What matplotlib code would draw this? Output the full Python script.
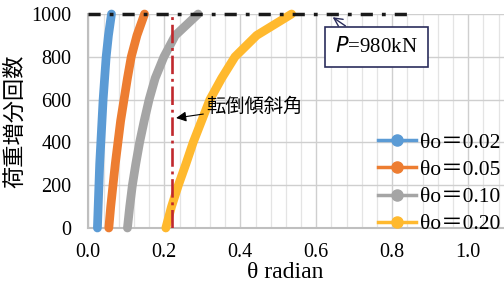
import matplotlib
matplotlib.use("Agg")
import matplotlib.pyplot as plt
from matplotlib.lines import Line2D
from matplotlib.ticker import MultipleLocator

# load increments (y) and tilt angle theta (x)
N = [0, 100, 200, 300, 400, 500, 600, 700, 800, 900, 1000]
theta_002 = [0.024, 0.026, 0.028, 0.030, 0.033, 0.036, 0.039, 0.043, 0.047, 0.053, 0.061]
theta_005 = [0.054, 0.059, 0.065, 0.071, 0.078, 0.085, 0.094, 0.103, 0.113, 0.128, 0.148]
theta_010 = [0.103, 0.109, 0.116, 0.125, 0.135, 0.147, 0.160, 0.176, 0.199, 0.229, 0.289]
theta_020 = [0.204, 0.219, 0.237, 0.257, 0.276, 0.298, 0.320, 0.351, 0.386, 0.443, 0.535]
labels = ["θo＝0.02", "θo＝0.05", "θo＝0.10", "θo＝0.20"]
colors = ["#5B9BD5", "#ED7D31", "#A5A5A5", "#FFB92E"]

overturn_theta = 0.221
load_line_x = [0.0, 0.855]
load_line_y = [1000, 1000]

serif = ["Liberation Serif", "Noto Sans CJK JP"]
jp = ["Noto Sans CJK JP", "Liberation Serif"]

fig = plt.figure(figsize=(5.04, 2.90), dpi=100)
# axes run past the right edge of the picture (cropped original)
ax = fig.add_axes([88.3 / 504, 62 / 290, 456 / 504, 214 / 290])

for th, c in zip([theta_002, theta_005, theta_010, theta_020], colors):
    ax.plot(th, N, color=c, lw=6.3, solid_capstyle="round", solid_joinstyle="round",
            clip_on=False, zorder=3)

ax.plot([overturn_theta, overturn_theta], [0, 1000], color="#C0282D", lw=1.9,
        dashes=(7, 1.8, 1.1, 1.8), zorder=4)
ax.plot(load_line_x, load_line_y, color="#1a1a1a", lw=2.5,
        dashes=(3.5, 2.6, 1.1, 2.6), zorder=5, clip_on=False)

ax.annotate("転倒傾斜角", xy=(0.231, 514), xytext=(0.31, 567),
            fontsize=13.9, family=jp, va="center", ha="left",
            arrowprops=dict(arrowstyle="-|>", color="black", lw=0.8,
                            mutation_scale=15, shrinkA=0, shrinkB=0))
ax.annotate("$P$=980kN", xy=(0.643, 985), xytext=(0.758, 846),
            fontsize=15, family=serif, va="center", ha="center",
            bbox=dict(boxstyle="square,pad=0.5", fc="white", ec="#2B2D5C", lw=1.2),
            arrowprops=dict(arrowstyle="->", color="#2B2D5C", lw=1.0,
                            shrinkA=0, shrinkB=0))

ax.set_xlim(0, 1.2)
ax.set_ylim(0, 1000)
ax.xaxis.set_major_locator(MultipleLocator(0.2))
ax.xaxis.set_minor_locator(MultipleLocator(0.04))
ax.yaxis.set_major_locator(MultipleLocator(200))
ax.grid(which="major", color="#CFCFCF", lw=1.0)
ax.grid(which="minor", axis="x", color="#E4E4E4", lw=0.9)
ax.set_axisbelow(True)
ax.tick_params(which="both", length=0, labelsize=14.5)
ax.tick_params(axis="y", pad=12)
ax.tick_params(axis="x", pad=11)
for lab in ax.get_xticklabels() + ax.get_yticklabels():
    lab.set_family(serif)
for s in ["top", "right"]:
    ax.spines[s].set_visible(False)
for s in ["left", "bottom"]:
    ax.spines[s].set_color("#BFBFBF")
    ax.spines[s].set_linewidth(1.5)

ax.set_ylabel("荷重増分回数", fontsize=16, family=jp)
ax.yaxis.set_label_coords((26 - 88.3) / 456, (228 - 121) / 214)
fig.text(285 / 504, 1 - 273 / 290, "θ radian", fontsize=17, family=serif,
         ha="center", va="center")

handles = [Line2D([], [], color=c, lw=2.5, marker="o", ms=8) for c in colors]
ax.legend(handles, labels, loc="upper left", bbox_to_anchor=((378 - 88.3) / 456, 0.445),
          frameon=False, prop={"family": serif, "size": 15.5},
          handlelength=1.75, handletextpad=0.2, labelspacing=0.33,
          borderaxespad=0, borderpad=0)

fig.savefig("out.png", dpi=100)
